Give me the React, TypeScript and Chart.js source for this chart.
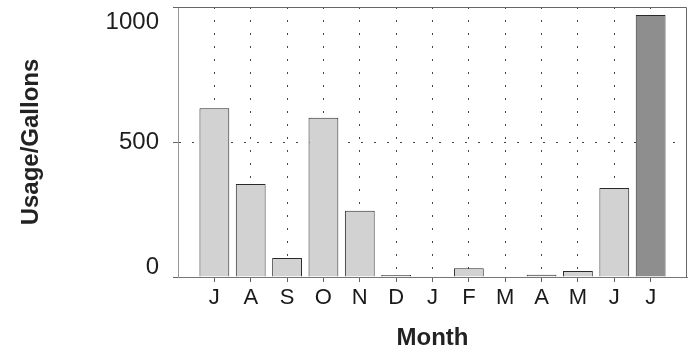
import React, { useEffect, useRef } from 'react';
import { Chart, registerables } from 'chart.js';

Chart.register(...registerables);

const months = ['J', 'A', 'S', 'O', 'N', 'D', 'J', 'F', 'M', 'A', 'M', 'J', 'J'];
const usage = [625, 344, 70, 590, 245, 7, 3, 32, 0, 8, 22, 330, 970];
const yTicks = [0, 500, 1000];

const FONT = '"Liberation Sans", Arial, Helvetica, sans-serif';
const LIGHT = '#d2d2d2';
const DARK = '#8e8e8e';
const CLEAR = 'rgba(0,0,0,0)';

const yLabelPlugin = {
  id: 'yLabels',
  afterDraw(chart: any) {
    const s = chart.scales.y;
    const ctx = chart.ctx;
    ctx.save();
    ctx.font = `24px ${FONT}`;
    ctx.fillStyle = '#1e1e1e';
    ctx.textAlign = 'right';
    ctx.textBaseline = 'middle';
    for (const t of s.ticks) {
      let y = s.getPixelForValue(t.value);
      y = Math.min(Math.max(y, s.top + 15), s.bottom - 10);
      ctx.fillText(String(t.value), s.right - 19, y);
    }
    ctx.restore();
  },
};

const framePlugin = {
  id: 'frame',
  afterDatasetsDraw(chart: any) {
    const { ctx, chartArea: a } = chart;
    ctx.save();
    ctx.strokeStyle = '#666';
    ctx.lineWidth = 1;
    ctx.beginPath();
    ctx.moveTo(a.left, a.top + 0.5);
    ctx.lineTo(a.right - 0.5, a.top + 0.5);
    ctx.lineTo(a.right - 0.5, a.bottom);
    ctx.stroke();
    ctx.restore();
  },
};

export default function App() {
  const ref = useRef<HTMLCanvasElement>(null);
  useEffect(() => {
    if (!ref.current) return;
    const chart = new Chart(ref.current, {
      type: 'bar',
      data: {
        datasets: [
          {
            data: usage.map((v, i) => ({ x: i, y: v })),
            backgroundColor: usage.map((_, i) => (i === usage.length - 1 ? DARK : LIGHT)),
            borderColor: '#2a2a2a',
            borderWidth: 1,
            barPercentage: 0.82,
            categoryPercentage: 1,
          },
        ],
      },
      options: {
        animation: false,
        responsive: false,
        maintainAspectRatio: false,
        layout: { padding: { top: 7, right: 7, left: 0, bottom: 0 } },
        plugins: { legend: { display: false }, tooltip: { enabled: false } },
        scales: {
          x: {
            type: 'linear',
            min: -1,
            max: 13,
            offset: false,
            ticks: {
              stepSize: 1,
              autoSkip: false,
              maxRotation: 0,
              padding: 3,
              color: '#1a1a1a',
              font: { family: FONT, size: 22 },
              callback: (v: any) => months[v] ?? '',
            },
            grid: {
              offset: false,
              color: (c: any) => (c.tick && (c.tick.value < 0 || c.tick.value > months.length - 1) ? CLEAR : '#444'),
              tickColor: (c: any) => (c.tick && (c.tick.value < 0 || c.tick.value > months.length - 1) ? CLEAR : '#666'),
              lineWidth: 1,
              tickLength: 5,
            },
            border: { display: true, color: '#777', width: 1, dash: [2, 11] },
            title: {
              display: true,
              text: 'Month',
              color: '#222',
              font: { family: FONT, size: 24, weight: 'bold', lineHeight: 1.1 },
              padding: { top: 0, bottom: 0 },
            },
            afterFit: (s: any) => {
              s.height = 75;
            },
          } as any,
          y: {
            min: 0,
            max: 1000,
            afterBuildTicks: (s: any) => {
              s.ticks = yTicks.map((v) => ({ value: v }));
            },
            ticks: { display: false },
            grid: {
              color: (c: any) => (c.tick && (c.tick.value === 0 || c.tick.value === 1000) ? CLEAR : '#444'),
              tickColor: '#666',
              lineWidth: 1,
              tickLength: 5,
            },
            border: { display: true, color: '#999', width: 1, dash: [2, 11] },
            title: {
              display: true,
              text: 'Usage/Gallons',
              color: '#222',
              font: { family: FONT, size: 24, weight: 'bold' },
              padding: { top: 17, bottom: 0 },
            },
            afterFit: (s: any) => {
              s.width = 178;
            },
          } as any,
        },
      },
      plugins: [yLabelPlugin, framePlugin],
    });
    return () => chart.destroy();
  }, []);
  return (
    <div style={{ position: 'fixed', left: 0, top: 0, width: 694, height: 352, background: '#fff' }}>
      <canvas ref={ref} width={694} height={352} style={{ display: 'block' }} />
    </div>
  );
}
